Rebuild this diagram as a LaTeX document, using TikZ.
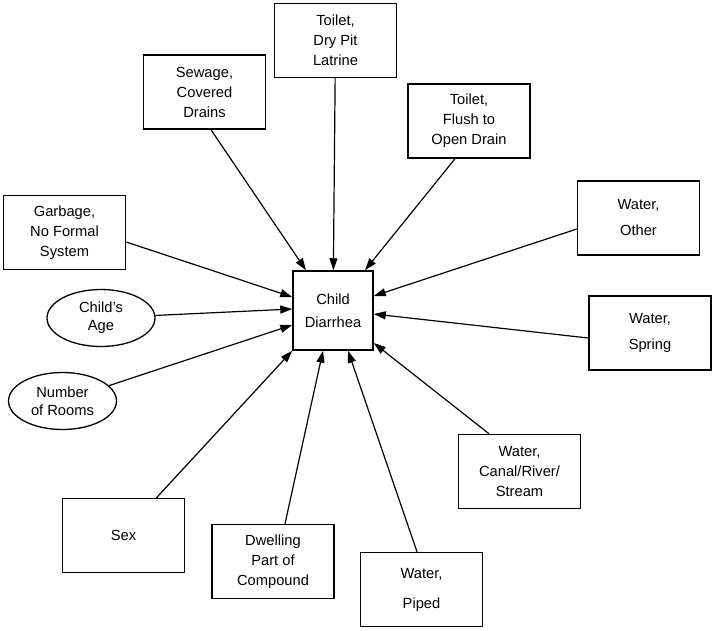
\documentclass[tikz,border=0pt]{standalone}
\usepackage{fontspec}
\setmainfont{Liberation Sans}
\usetikzlibrary{arrows.meta,shapes.geometric}

\begin{document}
\begin{tikzpicture}[
  x=1pt, y=-1pt,
  font=\fontsize{14.7}{20}\selectfont,
  factor/.style={draw, line width=1.5pt, minimum width=122pt, minimum height=74pt,
                 align=center, inner sep=2pt},
  outcome/.style={draw, line width=1.5pt, minimum width=80pt, minimum height=79pt,
                  align=center, font=\fontsize{14.7}{23}\selectfont},
  trait/.style={ellipse, draw, line width=1.3pt, minimum width=108pt, minimum height=57pt,
                align=center, inner sep=0pt, font=\fontsize{14.7}{18}\selectfont},
  effect/.style={-{Triangle[length=12pt, width=8pt]}, line width=1.2pt},
]
\useasboundingbox (0,0) rectangle (715,630);

% --- Outcome ---
\node[outcome] (child) at (333,310.5) {Child\\Diarrhea};

% --- Sanitation ---
\node[factor] (dry) at (335.5,40.5) {Toilet,\\Dry Pit\\Latrine};
\node[factor] (sew) at (204.5,92) {Sewage,\\Covered\\Drains};
\node[factor] (flush) at (469,121) {Toilet,\\Flush to\\Open Drain};
\node[factor] (garb) at (64.5,232.5) {Garbage,\\No Formal\\System};

% --- Water sources ---
\node[factor] (other) at (638.5,218) {Water,\\[6pt]Other};
\node[factor] (spring) at (650,333) {Water,\\[6pt]Spring};
\node[factor] (canal) at (519.5,471.5) {Water,\\Canal/River/\\Stream};
\node[factor] (piped) at (421.5,589.5) {Water,\\[10pt]Piped};

% --- Household / child ---
\node[trait] (age) at (101,318) {Child's\\Age};
\node[trait] (rooms) at (62.5,401) {Number\\of Rooms};
\node[factor] (sex) at (123.5,535.5) {Sex};
\node[factor] (dwell) at (273,561.5) {Dwelling\\Part of\\Compound};

% --- Effects on outcome ---
\draw[effect] ([xshift=6.5pt]sew.south) -- ([xshift=-27pt]child.north);
\draw[effect] (dry) -- (child);
\draw[effect] ([xshift=-14pt]flush.south) -- ([xshift=32pt]child.north);
\draw[effect] ([yshift=-11pt]other.west) -- ([yshift=14.5pt]child.east);
\draw[effect] ([yshift=-5pt]spring.west) -- ([yshift=-3.5pt]child.east);
\draw[effect] ([xshift=-30.5pt]canal.north) -- ([yshift=-32.5pt]child.east);
\draw[effect] ([xshift=-4.5pt]piped.north) -- ([xshift=15pt]child.south);
\draw[effect] ([xshift=12pt]dwell.north) -- ([xshift=-10pt]child.south);
\draw[effect] ([xshift=33pt]sex.north) -- (child.south west);
\draw[effect] (rooms) -- ([yshift=-14.5pt]child.west);
\draw[effect] (age) -- ([yshift=1.5pt]child.west);
\draw[effect] ([yshift=-9.5pt]garb.east) -- ([yshift=13.5pt]child.west);

\end{tikzpicture}
\end{document}
